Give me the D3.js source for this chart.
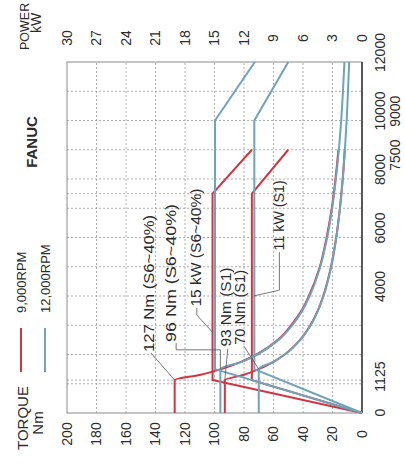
<!DOCTYPE html>
<html>
<head>
<meta charset="utf-8">
<script src="https://cdn.jsdelivr.net/npm/d3@7"></script>
<style>
  body { margin: 0; background: #fff; }
  svg { display: block; }
</style>
</head>
<body>
<svg id="chart" width="405" height="467"></svg>
<script>
// ---- data (rpm, Nm / kW) ----
const rpmTicks = [0, 1125, 4000, 6000, 8000, 10000, 12000];
const rpmTicks2 = [7500, 9000];
const rpmGrid = [1000, 1125, 2000, 3000, 4000, 5000, 6000, 7000, 7500, 8000, 9000, 10000, 11000];
const torqueTicks = [0, 20, 40, 60, 80, 100, 120, 140, 160, 180, 200];
const powerTicks = [0, 3, 6, 9, 12, 15, 18, 21, 24, 27, 30];

// 9,000 RPM spindle (red)
const red9000TorqueS6 = [[0, 127], [1125, 127], [1300, 110], [1500, 95.5], [1750, 82], [2000, 71.5], [2500, 57], [3000, 48], [3500, 41], [4000, 36], [5000, 28.6], [6000, 24], [7000, 20.5], [8000, 18], [9000, 16]];
const red9000TorqueS1 = [[0, 93], [1125, 93], [1300, 80.5], [1500, 70], [1750, 60], [2000, 52.5], [2500, 42], [3000, 35], [3500, 30], [4000, 26.3], [5000, 21], [6000, 17.5], [7000, 15], [8000, 13.1], [9000, 11.7]];
const red9000PowerS6 = [[0, 0], [1125, 15.2], [7500, 15.2], [9000, 11.2]];
const red9000PowerS1 = [[0, 0], [1125, 11.2], [7500, 11.2], [9000, 7.5]];

// 12,000 RPM spindle (blue)
const blue12000TorqueS6 = [[0, 96], [1500, 96], [1750, 81.5], [2000, 71], [2500, 56.5], [3000, 47.3], [3500, 40.5], [4000, 35.5], [5000, 28.3], [6000, 23.6], [7000, 20.2], [8000, 17.7], [9000, 15.7], [10000, 14.1], [11000, 12.9], [12000, 11.9]];
const blue12000TorqueS1 = [[0, 70], [1500, 70], [1750, 60], [2000, 52.3], [2500, 41.8], [3000, 34.8], [3500, 29.8], [4000, 26.1], [5000, 20.9], [6000, 17.4], [7000, 14.9], [8000, 13], [9000, 11.6], [10000, 10.4], [11000, 9.5], [12000, 8.7]];
const blue12000PowerS6 = [[0, 0], [1500, 14.95], [10000, 14.95], [12000, 10.9]];
const blue12000PowerS1 = [[0, 0], [1500, 10.95], [10000, 10.95], [12000, 7.5]];

// annotations: text start (rpm, Nm), text length, leader polyline (rpm, Nm)
const notes = [
  {text: '127 Nm (S6~40%)', at: [2085, 141], len: 137, leader: [[2050, 143], [1125, 127]]},
  {text: '96 Nm (S6~40%)', at: [2430, 126], len: 138, leader: [[2390, 126], [2160, 126], [2160, 96], [1500, 96]]},
  {text: '15 kW (S6~40%)', at: [3640, 109], len: 118, leader: [[3590, 112], [3350, 112], [2740, 101]]},
  {text: '93 Nm (S1)', at: [2270, 89], len: 79, leader: [[2200, 91], [1125, 93]]},
  {text: '70 Nm (S1)', at: [2330, 79], len: 75, leader: [[2280, 80], [1500, 70]]},
  {text: '11 kW (S1)', at: [5560, 53], len: 70, leader: [[5500, 56], [4200, 56], [4000, 73.5]]}
];

// ---- layout: chart is drawn upright, then turned -90deg ----
const W = 467;   // unrotated width  = page height
const FONT = '"Liberation Sans", Arial, Helvetica, sans-serif';
const RED = '#cf3642';
const BLUE = '#6ea3ba';
const INK = '#2b2b2b';

const x = d3.scaleLinear().domain([0, 12000]).range([54, 405]);
const yT = d3.scaleLinear().domain([0, 200]).range([362, 67]);
const yP = d3.scaleLinear().domain([0, 30]).range([362, 67]);

const svg = d3.select('#chart');
svg.append('rect').attr('width', 405).attr('height', 467).attr('fill', '#fff');

const g = svg.append('g')
  .attr('transform', `translate(0,${W}) rotate(-90)`)
  .attr('font-family', FONT)
  .attr('fill', INK);

// grid
g.append('g').selectAll('line').data(rpmGrid).join('line')
  .attr('x1', d => x(d)).attr('x2', d => x(d))
  .attr('y1', yT(200)).attr('y2', yT(0))
  .attr('stroke', '#9c9c9c').attr('stroke-width', 0.8).attr('stroke-dasharray', '2,2');

g.append('g').selectAll('line').data(torqueTicks.filter(d => d > 0 && d < 200)).join('line')
  .attr('x1', x(0)).attr('x2', x(12000))
  .attr('y1', d => yT(d)).attr('y2', d => yT(d))
  .attr('stroke', '#9c9c9c').attr('stroke-width', 0.8).attr('stroke-dasharray', '2,2');

// frame
g.append('rect')
  .attr('x', x(0)).attr('y', yT(200))
  .attr('width', x(12000) - x(0)).attr('height', yT(0) - yT(200))
  .attr('fill', 'none').attr('stroke', '#8a8a8a').attr('stroke-width', 1);
g.append('line')
  .attr('x1', x(0)).attr('x2', x(12000)).attr('y1', yT(0)).attr('y2', yT(0))
  .attr('stroke', '#111').attr('stroke-width', 1.2);

// curves
const lineT = d3.line().x(d => x(d[0])).y(d => yT(d[1]));
const lineP = d3.line().x(d => x(d[0])).y(d => yP(d[1]));
const curveT = d3.line().x(d => x(d[0])).y(d => yT(d[1])).curve(d3.curveMonotoneX);

const series = [
  {d: curveT(red9000TorqueS6), c: RED},
  {d: curveT(red9000TorqueS1), c: RED},
  {d: lineP(red9000PowerS6), c: RED},
  {d: lineP(red9000PowerS1), c: RED},
  {d: curveT(blue12000TorqueS6), c: BLUE},
  {d: curveT(blue12000TorqueS1), c: BLUE},
  {d: lineP(blue12000PowerS6), c: BLUE},
  {d: lineP(blue12000PowerS1), c: BLUE}
];
g.append('g').selectAll('path').data(series).join('path')
  .attr('d', s => s.d)
  .attr('fill', 'none')
  .attr('stroke', s => s.c)
  .attr('stroke-width', 2)
  .attr('stroke-linejoin', 'round');

// annotations
const notesG = g.append('g');
notesG.selectAll('path').data(notes).join('path')
  .attr('d', n => lineT(n.leader))
  .attr('fill', 'none').attr('stroke', '#555').attr('stroke-width', 0.8);
notesG.selectAll('text').data(notes).join('text')
  .attr('x', n => x(n.at[0])).attr('y', n => yT(n.at[1]))
  .attr('font-size', 14)
  .attr('textLength', n => n.len).attr('lengthAdjust', 'spacingAndGlyphs')
  .text(n => n.text);

// axes
const styleAxis = a => {
  a.select('.domain').remove();
  a.attr('font-family', FONT).attr('font-size', 14);
  a.selectAll('text').attr('fill', INK);
};

g.append('g')
  .attr('transform', `translate(${x(0)},0)`)
  .call(d3.axisLeft(yT).tickValues(torqueTicks).tickSize(0))
  .call(styleAxis)
  .selectAll('text').attr('text-anchor', 'middle').attr('x', 33 - x(0));

g.append('g')
  .attr('transform', `translate(${x(12000)},0)`)
  .call(d3.axisRight(yP).tickValues(powerTicks).tickSize(0))
  .call(styleAxis)
  .selectAll('text').attr('text-anchor', 'middle').attr('x', 24);

g.append('g')
  .attr('transform', `translate(0,${yT(0)})`)
  .call(d3.axisBottom(x).tickValues(rpmTicks).tickSize(0).tickPadding(13).tickFormat(d3.format('d')))
  .call(styleAxis)
  .selectAll('text').attr('dx', d => d >= 4000 ? 9 : d > 0 ? 3 : 0);

g.append('g')
  .attr('transform', `translate(0,${yT(0)})`)
  .call(d3.axisBottom(x).tickValues(rpmTicks2).tickSize(0).tickPadding(28).tickFormat(d3.format('d')))
  .call(styleAxis)
  .selectAll('text').attr('dx', 38);

// titles
g.append('text').attr('x', 17).attr('y', 28).attr('font-size', 15).text('TORQUE');
g.append('text').attr('x', 44).attr('y', 43).attr('font-size', 15).attr('text-anchor', 'middle').text('Nm');
g.append('text').attr('x', 417).attr('y', 29).attr('font-size', 12.5).text('POWER');
g.append('text').attr('x', 444).attr('y', 41).attr('font-size', 14).attr('text-anchor', 'middle').text('kW');
g.append('text').attr('x', 325).attr('y', 37).attr('font-size', 15).attr('font-weight', 'bold')
  .attr('text-anchor', 'middle').text('FANUC');

// legend
const legend = [
  {label: '9,000RPM', c: RED, y: 21},
  {label: '12,000RPM', c: BLUE, y: 45}
];
const lg = g.append('g');
lg.selectAll('line').data(legend).join('line')
  .attr('x1', 95).attr('x2', 139).attr('y1', d => d.y).attr('y2', d => d.y)
  .attr('stroke', d => d.c).attr('stroke-width', 2);
lg.selectAll('text').data(legend).join('text')
  .attr('x', 154).attr('y', d => d.y + 5).attr('font-size', 13)
  .text(d => d.label);
</script>
</body>
</html>
